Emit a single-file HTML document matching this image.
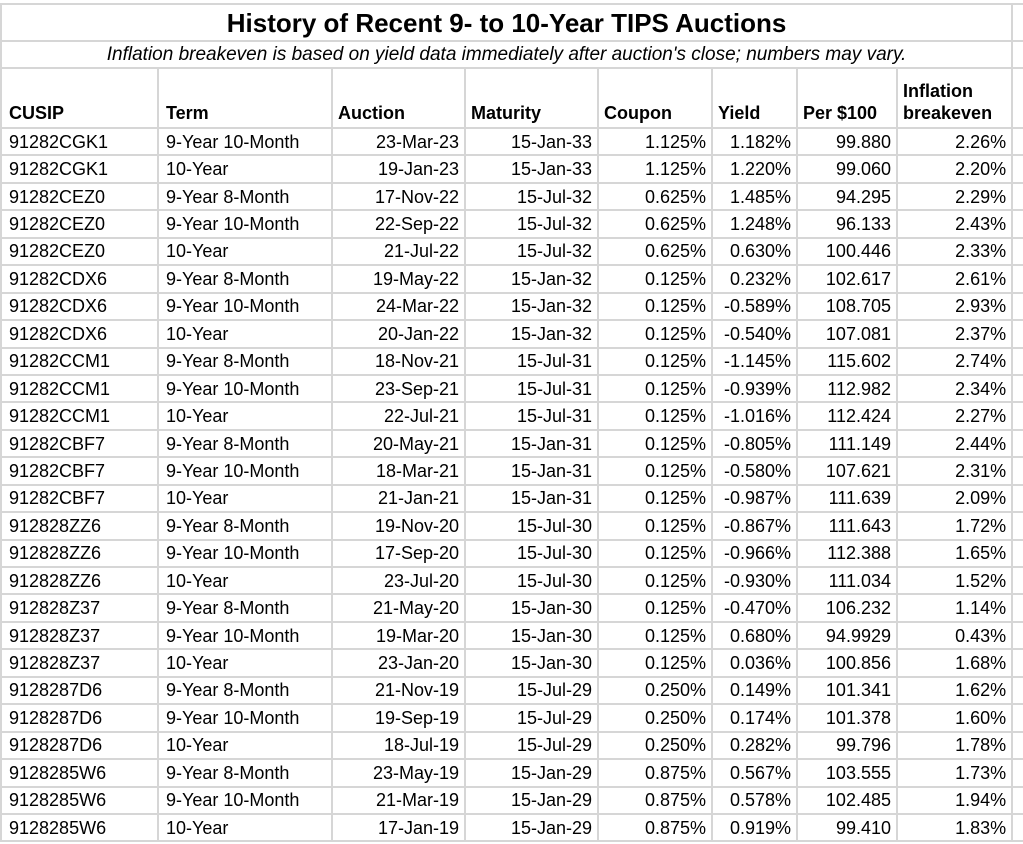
<!DOCTYPE html>
<html><head><style>
body{margin:0;width:1023px;height:844px;overflow:hidden;background:#fff;font-family:"Liberation Sans",sans-serif;}
table{position:absolute;left:0;top:3px;border-collapse:collapse;table-layout:fixed;width:1033px}
td{border:2px solid #d6d6d6;padding:0 5px;font-size:18px;height:25.45px;white-space:nowrap;overflow:hidden;color:#000;line-height:20px}
td.r{text-align:right}
td.l{padding-left:7px}
.title td{font-weight:bold;font-size:26px;text-align:center;height:35px}
.sub td{font-style:italic;font-size:19px;text-align:center;height:25px}
.hdr td{font-weight:bold;height:55px;vertical-align:bottom;padding-bottom:3px;line-height:22px}
</style></head><body>
<table>
<colgroup><col style="width:157px"><col style="width:174px"><col style="width:133px"><col style="width:133px"><col style="width:114px"><col style="width:85px"><col style="width:100px"><col style="width:115px"><col style="width:22px"></colgroup>
<tr class="title"><td colspan="8">History of Recent 9- to 10-Year TIPS Auctions</td><td></td></tr>
<tr class="sub"><td colspan="8">Inflation breakeven is based on yield data immediately after auction's close; numbers may vary.</td><td></td></tr>
<tr class="hdr"><td class="l">CUSIP</td><td class="l">Term</td><td>Auction</td><td>Maturity</td><td>Coupon</td><td>Yield</td><td>Per $100</td><td>Inflation<br>breakeven</td><td></td></tr>
<tr><td class="l">91282CGK1</td><td class="l">9-Year 10-Month</td><td class="r">23-Mar-23</td><td class="r">15-Jan-33</td><td class="r">1.125%</td><td class="r">1.182%</td><td class="r">99.880</td><td class="r">2.26%</td><td></td></tr>
<tr><td class="l">91282CGK1</td><td class="l">10-Year</td><td class="r">19-Jan-23</td><td class="r">15-Jan-33</td><td class="r">1.125%</td><td class="r">1.220%</td><td class="r">99.060</td><td class="r">2.20%</td><td></td></tr>
<tr><td class="l">91282CEZ0</td><td class="l">9-Year 8-Month</td><td class="r">17-Nov-22</td><td class="r">15-Jul-32</td><td class="r">0.625%</td><td class="r">1.485%</td><td class="r">94.295</td><td class="r">2.29%</td><td></td></tr>
<tr><td class="l">91282CEZ0</td><td class="l">9-Year 10-Month</td><td class="r">22-Sep-22</td><td class="r">15-Jul-32</td><td class="r">0.625%</td><td class="r">1.248%</td><td class="r">96.133</td><td class="r">2.43%</td><td></td></tr>
<tr><td class="l">91282CEZ0</td><td class="l">10-Year</td><td class="r">21-Jul-22</td><td class="r">15-Jul-32</td><td class="r">0.625%</td><td class="r">0.630%</td><td class="r">100.446</td><td class="r">2.33%</td><td></td></tr>
<tr><td class="l">91282CDX6</td><td class="l">9-Year 8-Month</td><td class="r">19-May-22</td><td class="r">15-Jan-32</td><td class="r">0.125%</td><td class="r">0.232%</td><td class="r">102.617</td><td class="r">2.61%</td><td></td></tr>
<tr><td class="l">91282CDX6</td><td class="l">9-Year 10-Month</td><td class="r">24-Mar-22</td><td class="r">15-Jan-32</td><td class="r">0.125%</td><td class="r">-0.589%</td><td class="r">108.705</td><td class="r">2.93%</td><td></td></tr>
<tr><td class="l">91282CDX6</td><td class="l">10-Year</td><td class="r">20-Jan-22</td><td class="r">15-Jan-32</td><td class="r">0.125%</td><td class="r">-0.540%</td><td class="r">107.081</td><td class="r">2.37%</td><td></td></tr>
<tr><td class="l">91282CCM1</td><td class="l">9-Year 8-Month</td><td class="r">18-Nov-21</td><td class="r">15-Jul-31</td><td class="r">0.125%</td><td class="r">-1.145%</td><td class="r">115.602</td><td class="r">2.74%</td><td></td></tr>
<tr><td class="l">91282CCM1</td><td class="l">9-Year 10-Month</td><td class="r">23-Sep-21</td><td class="r">15-Jul-31</td><td class="r">0.125%</td><td class="r">-0.939%</td><td class="r">112.982</td><td class="r">2.34%</td><td></td></tr>
<tr><td class="l">91282CCM1</td><td class="l">10-Year</td><td class="r">22-Jul-21</td><td class="r">15-Jul-31</td><td class="r">0.125%</td><td class="r">-1.016%</td><td class="r">112.424</td><td class="r">2.27%</td><td></td></tr>
<tr><td class="l">91282CBF7</td><td class="l">9-Year 8-Month</td><td class="r">20-May-21</td><td class="r">15-Jan-31</td><td class="r">0.125%</td><td class="r">-0.805%</td><td class="r">111.149</td><td class="r">2.44%</td><td></td></tr>
<tr><td class="l">91282CBF7</td><td class="l">9-Year 10-Month</td><td class="r">18-Mar-21</td><td class="r">15-Jan-31</td><td class="r">0.125%</td><td class="r">-0.580%</td><td class="r">107.621</td><td class="r">2.31%</td><td></td></tr>
<tr><td class="l">91282CBF7</td><td class="l">10-Year</td><td class="r">21-Jan-21</td><td class="r">15-Jan-31</td><td class="r">0.125%</td><td class="r">-0.987%</td><td class="r">111.639</td><td class="r">2.09%</td><td></td></tr>
<tr><td class="l">912828ZZ6</td><td class="l">9-Year 8-Month</td><td class="r">19-Nov-20</td><td class="r">15-Jul-30</td><td class="r">0.125%</td><td class="r">-0.867%</td><td class="r">111.643</td><td class="r">1.72%</td><td></td></tr>
<tr><td class="l">912828ZZ6</td><td class="l">9-Year 10-Month</td><td class="r">17-Sep-20</td><td class="r">15-Jul-30</td><td class="r">0.125%</td><td class="r">-0.966%</td><td class="r">112.388</td><td class="r">1.65%</td><td></td></tr>
<tr><td class="l">912828ZZ6</td><td class="l">10-Year</td><td class="r">23-Jul-20</td><td class="r">15-Jul-30</td><td class="r">0.125%</td><td class="r">-0.930%</td><td class="r">111.034</td><td class="r">1.52%</td><td></td></tr>
<tr><td class="l">912828Z37</td><td class="l">9-Year 8-Month</td><td class="r">21-May-20</td><td class="r">15-Jan-30</td><td class="r">0.125%</td><td class="r">-0.470%</td><td class="r">106.232</td><td class="r">1.14%</td><td></td></tr>
<tr><td class="l">912828Z37</td><td class="l">9-Year 10-Month</td><td class="r">19-Mar-20</td><td class="r">15-Jan-30</td><td class="r">0.125%</td><td class="r">0.680%</td><td class="r">94.9929</td><td class="r">0.43%</td><td></td></tr>
<tr><td class="l">912828Z37</td><td class="l">10-Year</td><td class="r">23-Jan-20</td><td class="r">15-Jan-30</td><td class="r">0.125%</td><td class="r">0.036%</td><td class="r">100.856</td><td class="r">1.68%</td><td></td></tr>
<tr><td class="l">9128287D6</td><td class="l">9-Year 8-Month</td><td class="r">21-Nov-19</td><td class="r">15-Jul-29</td><td class="r">0.250%</td><td class="r">0.149%</td><td class="r">101.341</td><td class="r">1.62%</td><td></td></tr>
<tr><td class="l">9128287D6</td><td class="l">9-Year 10-Month</td><td class="r">19-Sep-19</td><td class="r">15-Jul-29</td><td class="r">0.250%</td><td class="r">0.174%</td><td class="r">101.378</td><td class="r">1.60%</td><td></td></tr>
<tr><td class="l">9128287D6</td><td class="l">10-Year</td><td class="r">18-Jul-19</td><td class="r">15-Jul-29</td><td class="r">0.250%</td><td class="r">0.282%</td><td class="r">99.796</td><td class="r">1.78%</td><td></td></tr>
<tr><td class="l">9128285W6</td><td class="l">9-Year 8-Month</td><td class="r">23-May-19</td><td class="r">15-Jan-29</td><td class="r">0.875%</td><td class="r">0.567%</td><td class="r">103.555</td><td class="r">1.73%</td><td></td></tr>
<tr><td class="l">9128285W6</td><td class="l">9-Year 10-Month</td><td class="r">21-Mar-19</td><td class="r">15-Jan-29</td><td class="r">0.875%</td><td class="r">0.578%</td><td class="r">102.485</td><td class="r">1.94%</td><td></td></tr>
<tr><td class="l">9128285W6</td><td class="l">10-Year</td><td class="r">17-Jan-19</td><td class="r">15-Jan-29</td><td class="r">0.875%</td><td class="r">0.919%</td><td class="r">99.410</td><td class="r">1.83%</td><td></td></tr>
</table>
</body></html>
